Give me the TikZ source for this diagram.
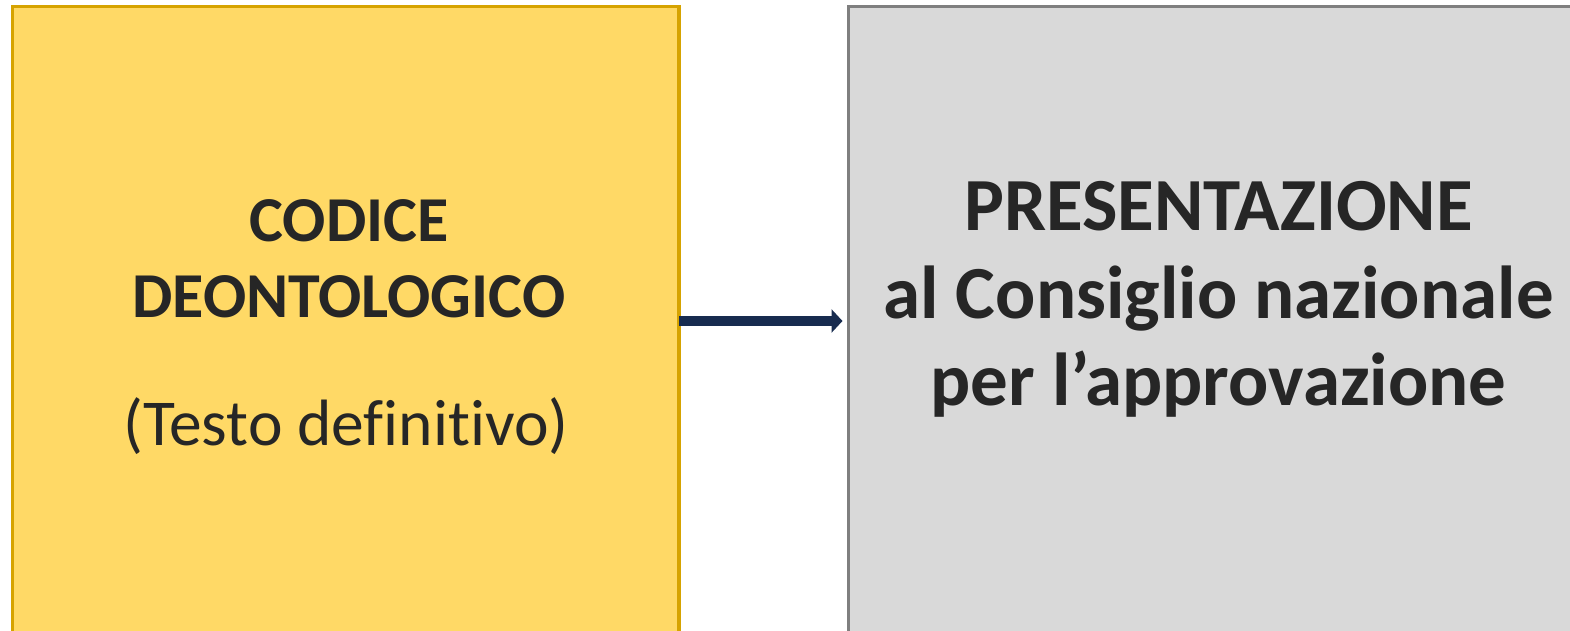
\documentclass[tikz,border=0pt]{standalone}
\usepackage{fontspec}
\setmainfont{Carlito}[Ligatures={NoCommon,NoRare,NoContextual}]
\usetikzlibrary{arrows.meta}
\definecolor{yfill}{HTML}{FFD966}
\definecolor{yline}{HTML}{D6A300}
\definecolor{gfill}{HTML}{D9D9D9}
\definecolor{gline}{HTML}{7F7F7F}
\definecolor{navy}{HTML}{172B4F}
\definecolor{txt}{HTML}{262626}
\begin{document}
\begin{tikzpicture}[x=1pt,y=-1pt,
  boxbase/.style={rectangle, inner sep=0pt, outer sep=0pt, line width=3.5pt, anchor=north west, minimum height=629pt},
  ybox/.style={boxbase, draw=yline, fill=yfill, minimum width=666.5pt},
  gbox/.style={boxbase, draw=gline, fill=gfill, minimum width=760pt},
  bigbold/.style={anchor=base, inner sep=0pt, text=txt, font=\fontsize{64}{64}\selectfont\bfseries},
  biggerbold/.style={anchor=base, inner sep=0pt, text=txt, font=\fontsize{75}{75}\selectfont\bfseries},
  plain/.style={anchor=base, inner sep=0pt, text=txt, font=\fontsize{65.5}{65.5}\selectfont},
  arr/.style={draw=navy, line width=10pt, -{Triangle[length=11pt, width=23pt]}, shorten >=6pt}
]
\useasboundingbox (0,0) rectangle (1570,631);
\node[ybox] (code) at (12.5,6.5) {};
\node[gbox] (pres) at (848.5,6.5) {};
\node[bigbold] (t1) at (349,241) {CODICE};
\node[bigbold] (t2) at (349,317) {DEONTOLOGICO};
\node[plain] (t3) at (346,445) {(Testo definitivo)};
\node[biggerbold] (p1) at (1218.5,230) {PRESENTAZIONE};
\node[biggerbold] (p2) at (1218.5,318) {al Consiglio nazionale};
\node[biggerbold] (p3) at (1218.5,405) {per l’approvazione};
\draw[arr] (code.east) -- (pres.west);
\end{tikzpicture}
\end{document}
